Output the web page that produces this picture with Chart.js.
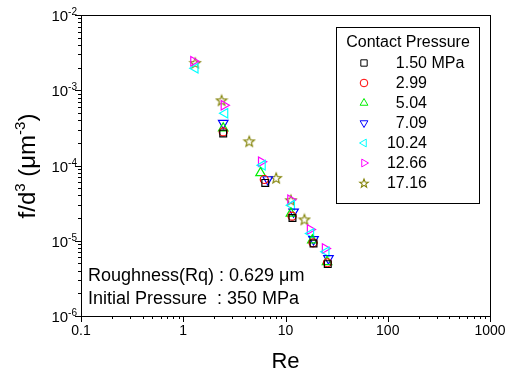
<!DOCTYPE html>
<html><head><meta charset="utf-8">
<script src="https://cdn.jsdelivr.net/npm/chart.js@4.4.1/dist/chart.umd.min.js"></script>
<style>html,body{margin:0;padding:0;background:#fff}#wrap{width:508px;height:376px}</style>
</head><body><div id="wrap"><canvas id="c" width="508" height="376"></canvas></div>
<script>
// ---- data (Re, f/d^3) ----
const seriesNames = ['1.50', '2.99', '5.04', '7.09', '10.24', '12.66', '17.16'];
const re_150 = [2.46, 6.34, 11.7, 18.8, 25.9];
const fd_150 = [2.66e-4, 5.87e-5, 2.01e-5, 9.2e-6, 4.89e-6];
const re_299 = [2.46, 6.2, 11.6, 18.6, 25.7];
const fd_299 = [2.79e-4, 6.52e-5, 2.12e-5, 9.38e-6, 5.1e-6];
const re_504 = [2.46, 5.7, 11.3, 18.3, 25.5];
const fd_504 = [3.13e-4, 7.97e-5, 2.31e-5, 1.02e-5, 5.25e-6];
const re_709 = [2.46, 6.7, 12.0, 18.8, 26.3];
const fd_709 = [3.65e-4, 6.52e-5, 2.42e-5, 1.04e-5, 5.82e-6];
const re_1024 = [1.31, 2.56, 5.95, 11.5, 17.7, 25.0];
const fd_1024 = [1.96e-3, 4.95e-4, 1.01e-4, 2.97e-5, 1.25e-5, 7.13e-6];
const re_1266 = [1.26, 2.5, 5.79, 11.2, 17.4, 24.4];
const fd_1266 = [2.43e-3, 6.32e-4, 1.12e-4, 3.5e-5, 1.41e-5, 7.9e-6];
const re_1716 = [1.31, 2.37, 4.42, 8.1, 11.3, 15.3];
const fd_1716 = [2.31e-3, 7.36e-4, 2.10e-4, 6.84e-5, 3.46e-5, 1.92e-5];
const xTickVals = [0.1, 1, 10, 100, 1000];
const xTickLabels = ['0.1', '1', '10', '100', '1000'];
const yTickVals = [1e-6, 1e-5, 1e-4, 1e-3, 1e-2];
const yTickExps = ['-6', '-5', '-4', '-3', '-2'];

// star marker
function makeStar(color, R, rIn) {
  const s = Math.ceil(R * 2 + 3);
  const c = document.createElement('canvas');
  c.width = s; c.height = s;
  const g = c.getContext('2d');
  g.strokeStyle = color; g.lineWidth = 1.1;
  g.beginPath();
  for (let i = 0; i < 10; i++) {
    const r = i % 2 === 0 ? R : rIn;
    const a = -Math.PI / 2 + i * Math.PI / 5;
    const px = s / 2 + r * Math.cos(a), py = s / 2 + 0.5 + r * Math.sin(a);
    if (i === 0) g.moveTo(px, py); else g.lineTo(px, py);
  }
  g.closePath(); g.stroke();
  return c;
}
const starImg = makeStar('#808000', 5.5, 2.3);
const starImgSmall = makeStar('#808000', 4.5, 1.9);

const styles = [
  {color: '#000000', style: 'rect', rot: 0, r: 4.8},
  {color: '#ff0000', style: 'circle', rot: 0, r: 4},
  {color: '#00ee00', style: 'triangle', rot: 0, r: 5.5},
  {color: '#0000ff', style: 'triangle', rot: 180, r: 5.5},
  {color: '#00ffff', style: 'triangle', rot: 270, r: 5.5},
  {color: '#ff00ff', style: 'triangle', rot: 90, r: 5.5},
  {color: '#808000', style: starImg, rot: 0, r: 6}
];
const xs = [re_150, re_299, re_504, re_709, re_1024, re_1266, re_1716];
const ys = [fd_150, fd_299, fd_504, fd_709, fd_1024, fd_1266, fd_1716];

const datasets = seriesNames.map((n, i) => ({
  label: n,
  data: xs[i].map((v, k) => ({x: v, y: ys[i][k]})),
  pointStyle: styles[i].style,
  rotation: styles[i].rot,
  pointRadius: styles[i].r,
  pointHoverRadius: styles[i].r,
  borderColor: styles[i].color,
  backgroundColor: 'rgba(0,0,0,0)',
  pointBorderWidth: 1.2,
  showLine: false
}));

const FONT = '"Liberation Sans", Arial, sans-serif';

const deco = {
  id: 'deco',
  afterDraw(chart) {
    const {ctx, chartArea: a, scales: {x, y}} = chart;
    ctx.save();
    ctx.strokeStyle = '#000'; ctx.lineWidth = 1;
    ctx.strokeRect(Math.round(a.left) + 0.5, Math.round(a.top) + 0.5, Math.round(a.right - a.left), Math.round(a.bottom - a.top));
    // x ticks
    ctx.beginPath();
    for (let d = 0.1; d < 1000.5; d *= 10) {
      for (let m = 1; m <= 9; m++) {
        const v = m * d;
        if (v > 1000 * 1.0001) break;
        const px = Math.round(x.getPixelForValue(v)) + 0.5;
        const len = m === 1 ? 6 : 3;
        ctx.moveTo(px, a.bottom); ctx.lineTo(px, a.bottom + len);
        if (d >= 999) break;
      }
    }
    // y ticks
    for (let d = 1e-6; d < 1e-2 * 1.5; d *= 10) {
      for (let m = 1; m <= 9; m++) {
        const v = m * d;
        if (v > 1e-2 * 1.0001) break;
        const py = Math.round(y.getPixelForValue(v)) + 0.5;
        const len = m === 1 ? 6 : 3;
        ctx.moveTo(a.left, py); ctx.lineTo(a.left - len, py);
      }
    }
    ctx.stroke();
    // tick labels
    ctx.fillStyle = '#000';
    ctx.font = '14px ' + FONT;
    ctx.textAlign = 'center'; ctx.textBaseline = 'top';
    xTickVals.forEach((v, i) => ctx.fillText(xTickLabels[i], x.getPixelForValue(v), a.bottom + 8));
    yTickVals.forEach((v, i) => {
      const py = y.getPixelForValue(v);
      ctx.font = '10px ' + FONT;
      ctx.textAlign = 'right'; ctx.textBaseline = 'alphabetic';
      const ew = ctx.measureText(yTickExps[i]).width;
      ctx.fillText(yTickExps[i], a.left - 4, py);
      ctx.font = '15px ' + FONT;
      ctx.fillText('10', a.left - 4 - ew, py + 6);
    });
    // x title
    ctx.font = '22px ' + FONT;
    ctx.textAlign = 'center'; ctx.textBaseline = 'middle';
    ctx.fillText('Re', (a.left + a.right) / 2, 362);
    // y title (rotated)
    ctx.save();
    ctx.translate(26, 166);
    ctx.rotate(-Math.PI / 2);
    const parts = [['f/d', 24, 0], ['3', 15, -10], [' (\u03bcm', 24, 0], ['-3', 15, -10], [')', 24, 0]];
    let total = 0;
    parts.forEach(p => { ctx.font = p[1] + 'px ' + FONT; total += ctx.measureText(p[0]).width; });
    let cx = -total / 2;
    ctx.textAlign = 'left'; ctx.textBaseline = 'alphabetic';
    parts.forEach(p => { ctx.font = p[1] + 'px ' + FONT; ctx.fillText(p[0], cx, 9 + p[2]); cx += ctx.measureText(p[0]).width; });
    ctx.restore();
    // annotations
    ctx.font = '18px ' + FONT;
    ctx.textAlign = 'left'; ctx.textBaseline = 'alphabetic';
    ctx.fillText('Roughness(Rq) : 0.629 \u03bcm', 88, 281);
    ctx.fillText('Initial Pressure  : 350 MPa', 88, 304);
    // legend
    ctx.strokeRect(336.5, 27.5, 143, 176);
    ctx.font = '16px ' + FONT;
    ctx.textAlign = 'center'; ctx.textBaseline = 'middle';
    ctx.fillText('Contact Pressure', 408, 43);
    chart.data.datasets.forEach((ds, i) => {
      const cy = 63 + i * 20;
      ctx.save();
      ctx.strokeStyle = ds.borderColor; ctx.fillStyle = 'rgba(0,0,0,0)'; ctx.lineWidth = 1;
      const isStar = ds.pointStyle === starImg;
      Chart.helpers.drawPoint(ctx, {pointStyle: isStar ? starImgSmall : ds.pointStyle, rotation: ds.rotation, radius: ds.pointStyle === 'rect' ? 4.5 : (ds.pointStyle === 'circle' ? 3.8 : 4.5), borderWidth: 1}, 364, cy);
      ctx.restore();
      ctx.fillStyle = '#000';
      ctx.font = '16px ' + FONT;
      ctx.textAlign = 'right';
      ctx.fillText(ds.label, 427, cy + 1);
      if (i === 0) { ctx.textAlign = 'left'; ctx.fillText(' MPa', 427, cy + 1); }
    });
    ctx.restore();
  }
};

new Chart(document.getElementById('c'), {
  type: 'scatter',
  data: {datasets},
  options: {
    responsive: false,
    animation: false,
    devicePixelRatio: 1,
    layout: {padding: {left: 81, right: 18, top: 15, bottom: 60}},
    plugins: {legend: {display: false}, tooltip: {enabled: false}},
    scales: {
      x: {type: 'logarithmic', display: false, min: 0.1, max: 1000},
      y: {type: 'logarithmic', display: false, min: 1e-6, max: 1e-2}
    }
  },
  plugins: [deco]
});
</script></body></html>
